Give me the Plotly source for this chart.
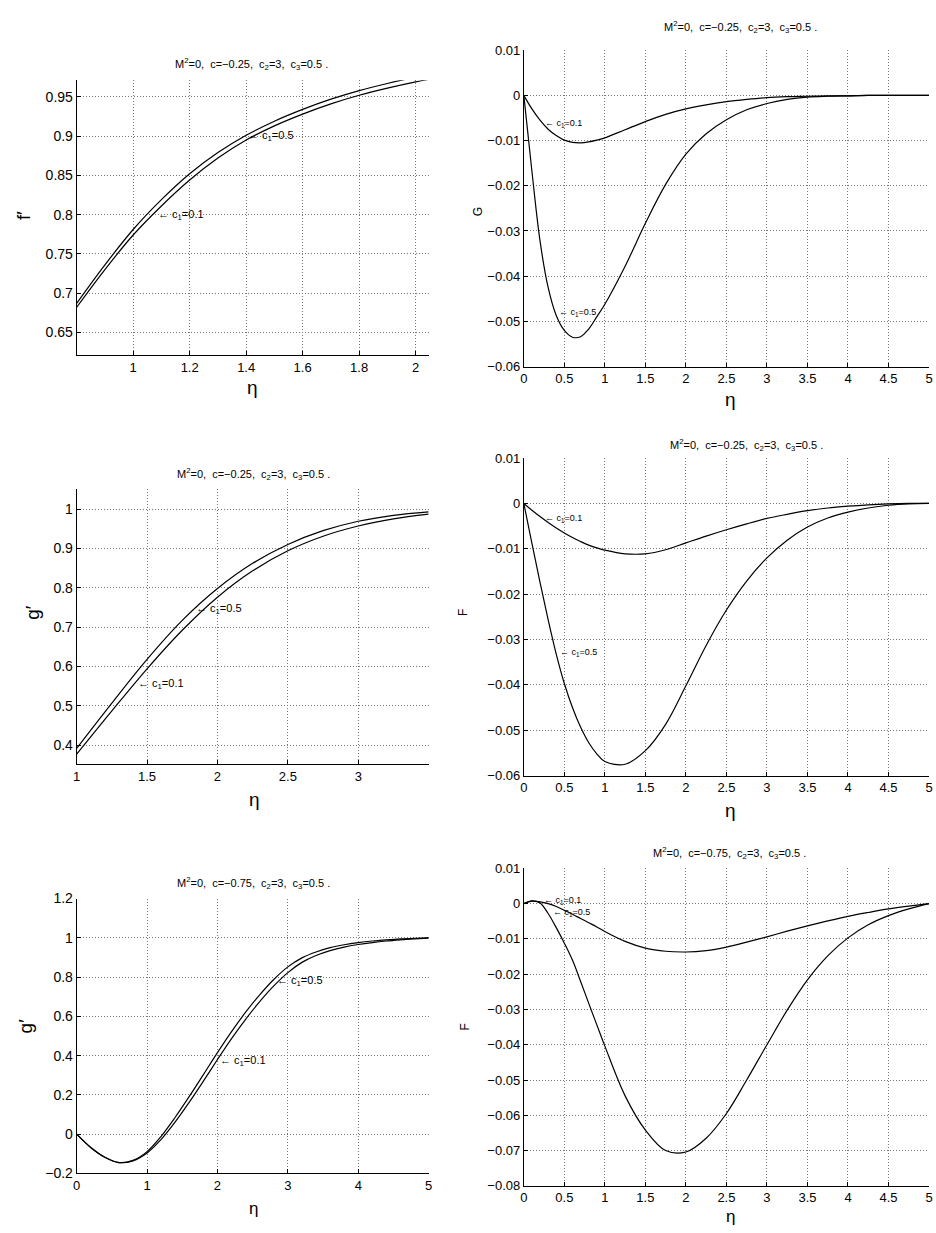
import plotly.graph_objects as go

W, H = 936, 1233
FONT = "Liberation Sans, Arial, Helvetica, sans-serif"

# ---------------- data ----------------
# Panel 1: f' , c=-0.25
eta_p1 = [0.8, 0.9, 1.0, 1.1, 1.2, 1.3, 1.4, 1.5, 1.6, 1.7, 1.8, 1.9, 2.0, 2.1]
fp_c05 = [0.687, 0.736, 0.781, 0.819, 0.852, 0.879, 0.901, 0.919, 0.934, 0.947, 0.958, 0.967, 0.975, 0.981]
fp_c01 = [0.682, 0.730, 0.774, 0.811, 0.844, 0.872, 0.895, 0.913, 0.928, 0.941, 0.952, 0.961, 0.969, 0.976]

# shared eta grid for the G / F panels
eta_fine = [0, 0.1, 0.2, 0.3, 0.4, 0.5, 0.6, 0.7, 0.8, 0.9, 1.0,
            1.25, 1.5, 1.75, 2.0, 2.25, 2.5, 2.75, 3.0, 3.25, 3.5, 3.75,
            4.0, 4.25, 4.5, 4.75, 5.0]

# Panel 2: G , c=-0.25
G_c01 = [0, -0.0030, -0.0055, -0.0075, -0.0089, -0.0099, -0.0104, -0.0105, -0.0103,
         -0.0099, -0.0094, -0.0076, -0.0058, -0.0042, -0.0030, -0.0021, -0.0014,
         -0.0009, -0.0005, -0.0003, -0.0002, -0.0001, -0.0001, 0, 0, 0, 0]
G_c05 = [0, -0.0168, -0.0322, -0.0425, -0.0487, -0.0520, -0.0535, -0.0534, -0.0517,
         -0.0490, -0.0462, -0.0378, -0.0283, -0.0197, -0.0130, -0.0085, -0.0054,
         -0.0032, -0.0018, -0.0009, -0.0004, -0.0002, -0.0001, 0, 0, 0, 0]

# Panel 3: g' , c=-0.25
eta_p3 = [1.0, 1.25, 1.5, 1.75, 2.0, 2.25, 2.5, 2.75, 3.0, 3.25, 3.5]
gp_c05 = [0.392, 0.507, 0.618, 0.717, 0.798, 0.862, 0.910, 0.945, 0.969, 0.984, 0.993]
gp_c01 = [0.377, 0.487, 0.594, 0.692, 0.776, 0.843, 0.894, 0.931, 0.957, 0.975, 0.987]

# Panel 4: F , c=-0.25
F1_c01 = [0, -0.0015, -0.0029, -0.0042, -0.0054, -0.0065, -0.0075, -0.0084, -0.0092,
          -0.0098, -0.0103, -0.0111, -0.0111, -0.0102, -0.0087, -0.0072, -0.0058,
          -0.0045, -0.0033, -0.0024, -0.0016, -0.0010, -0.0006, -0.0003, -0.0001, 0, 0]
F1_c05 = [0, -0.0088, -0.0174, -0.0256, -0.0332, -0.0397, -0.0450, -0.0493, -0.0527,
          -0.0552, -0.0569, -0.0575, -0.0545, -0.0487, -0.0402, -0.0313, -0.0235,
          -0.0171, -0.0120, -0.0081, -0.0052, -0.0032, -0.0019, -0.0010, -0.0004, -0.0001, 0]

# Panel 5: g' , c=-0.75
eta_p5 = [0, 0.2, 0.4, 0.6, 0.8, 1.0, 1.2, 1.4, 1.6, 1.8, 2.0, 2.2, 2.4, 2.6, 2.8,
          3.0, 3.2, 3.4, 3.6, 3.8, 4.0, 4.2, 4.4, 4.6, 4.8, 5.0]
gp2_c05 = [0, -0.068, -0.118, -0.145, -0.134, -0.089, -0.011, 0.086, 0.192, 0.303,
           0.415, 0.522, 0.621, 0.710, 0.788, 0.852, 0.898, 0.928, 0.950, 0.965,
           0.976, 0.984, 0.990, 0.995, 0.998, 1.0]
gp2_c01 = [0, -0.068, -0.118, -0.145, -0.136, -0.096, -0.027, 0.062, 0.163, 0.270,
           0.380, 0.487, 0.585, 0.675, 0.755, 0.823, 0.875, 0.910, 0.935, 0.953,
           0.966, 0.976, 0.984, 0.990, 0.995, 0.999]

# Panel 6: F , c=-0.75
F2_c01 = [0, 0.0007, 0.0005, 0.0000, -0.0008, -0.0019, -0.0030, -0.0042, -0.0054,
          -0.0066, -0.0079, -0.0107, -0.0126, -0.0135, -0.0137, -0.0133, -0.0123,
          -0.0109, -0.0094, -0.0078, -0.0063, -0.0049, -0.0036, -0.0025, -0.0015,
          -0.0007, 0]
F2_c05 = [0, 0.0008, 0.0002, -0.0028, -0.0068, -0.0112, -0.0160, -0.0220, -0.0282,
          -0.0343, -0.0404, -0.0545, -0.0642, -0.0700, -0.0704, -0.0665, -0.0595,
          -0.0500, -0.0400, -0.0302, -0.0216, -0.0148, -0.0097, -0.0060, -0.0034,
          -0.0015, 0]

title_025 = "M<sup>2</sup>=0,  c=−0.25,  c<sub>2</sub>=3,  c<sub>3</sub>=0.5 ."
title_075 = "M<sup>2</sup>=0,  c=−0.75,  c<sub>2</sub>=3,  c<sub>3</sub>=0.5 ."


def fmt(v):
    s = ("%.4f" % v).rstrip("0").rstrip(".")
    return s.replace("-", "−")


def frange(a, b, step):
    n = int(round((b - a) / step))
    return [round(a + i * step, 6) for i in range(n + 1)]


RX1 = 933.0
panels = [
    dict(px=(73.3, 428.3, 73.3, 351.7), xr=[0.8, 2.046], yr=[0.621, 0.971],
         xt=frange(1, 2, 0.2), yt=frange(0.65, 0.95, 0.05), fsx=13, fsy=14,
         x=eta_p1, ys=[fp_c05, fp_c01], title=title_025, tpos=(250, 57),
         ylab="f′", ylpos=(19, 210), ylsize=19, etapos=(251, 384), etasize=19,
         notes=[(1.4, 0.9, "0.5"), (1.08, 0.8, "0.1")], nsize=11),
    dict(px=(524.3, RX1, 42.7, 363.3), xr=[0, 5], yr=[-0.06, 0.01],
         xt=frange(0, 5, 0.5), yt=frange(-0.06, 0.01, 0.01), fsx=13, fsy=13,
         x=eta_fine, ys=[G_c01, G_c05], title=title_025, tpos=(743, 19),
         ylab="G", ylpos=(478, 206), ylsize=12, etapos=(733, 397), etasize=19,
         notes=[(0.24, -0.0063, "0.1"), (0.41, -0.0481, "0.5")], nsize=9),
    dict(px=(73.3, 428.3, 487.7, 766.0), xr=[1, 3.5], yr=[0.352, 1.05],
         xt=frange(1, 3, 0.5), yt=frange(0.4, 1.0, 0.1), fsx=13, fsy=14,
         x=eta_p3, ys=[gp_c05, gp_c01], title=title_025, tpos=(252, 472),
         ylab="g′", ylpos=(28, 612), ylsize=19, etapos=(253, 802), etasize=19,
         notes=[(1.834, 0.745, "0.5"), (1.42, 0.556, "0.1")], nsize=11),
    dict(px=(524.3, RX1, 456.0, 777.7), xr=[0, 5], yr=[-0.06, 0.01],
         xt=frange(0, 5, 0.5), yt=frange(-0.06, 0.01, 0.01), fsx=13, fsy=13,
         x=eta_fine, ys=[F1_c01, F1_c05], title=title_025, tpos=(749, 443),
         ylab="F", ylpos=(463, 613), ylsize=12, etapos=(733, 813), etasize=19,
         notes=[(0.24, -0.0034, "0.1"), (0.42, -0.0329, "0.5")], nsize=9),
    dict(px=(73.3, 428.3, 902.3, 1180.7), xr=[0, 5], yr=[-0.2, 1.2],
         xt=frange(0, 5, 1), yt=frange(-0.2, 1.2, 0.2), fsx=13, fsy=14,
         x=eta_p5, ys=[gp2_c05, gp2_c01], title=title_075, tpos=(252, 887),
         ylab="g′", ylpos=(22, 1031), ylsize=19, etapos=(252, 1216), etasize=17,
         notes=[(2.82, 0.78, "0.5"), (2.01, 0.373, "0.1")], nsize=11),
    dict(px=(524.3, RX1, 871.7, 1193.3), xr=[0, 5], yr=[-0.08, 0.01],
         xt=frange(0, 5, 0.5), yt=frange(-0.08, 0.01, 0.01), fsx=13, fsy=13,
         x=eta_fine, ys=[F2_c01, F2_c05], title=title_075, tpos=(732, 856),
         ylab="F", ylpos=(465, 1033), ylsize=12, etapos=(733, 1224), etasize=17,
         notes=[(0.22, 0.001, "0.1"), (0.33, -0.0025, "0.5")], nsize=9),
]

fig = go.Figure()
layout = dict(width=W, height=H, margin=dict(l=0, r=0, t=0, b=0),
              paper_bgcolor="white", plot_bgcolor="white", showlegend=False,
              font=dict(family=FONT, color="black"))
annotations = []

for i, p in enumerate(panels, start=1):
    x0, x1, y0, y1 = p["px"]
    xa = "x" if i == 1 else "x%d" % i
    ya = "y" if i == 1 else "y%d" % i
    xkey = "xaxis" if i == 1 else "xaxis%d" % i
    ykey = "yaxis" if i == 1 else "yaxis%d" % i
    common = dict(showgrid=True, gridcolor="#777777", griddash="1px,2px", gridwidth=1,
                  showline=True, linecolor="black", linewidth=1, mirror=False,
                  ticks="inside", ticklen=4, tickcolor="black", zeroline=False,
                  tickmode="array", fixedrange=True, ticklabeloverflow="allow")
    layout[xkey] = dict(domain=[x0 / W, x1 / W], range=p["xr"], anchor=ya,
                        tickvals=p["xt"], ticktext=[fmt(v) for v in p["xt"]],
                        tickfont=dict(family=FONT, size=p["fsx"], color="black"), **common)
    layout[ykey] = dict(domain=[1 - y1 / H, 1 - y0 / H], range=p["yr"], anchor=xa,
                        tickvals=p["yt"], ticktext=[fmt(v) for v in p["yt"]],
                        tickfont=dict(family=FONT, size=p["fsy"], color="black"), **common)
    for ys in p["ys"]:
        fig.add_trace(go.Scatter(x=p["x"], y=ys, mode="lines", xaxis=xa, yaxis=ya,
                                 line=dict(color="black", width=1.2, shape="spline",
                                           smoothing=1.0),
                                 hoverinfo="skip"))
    annotations.append(dict(text=p["title"], x=p["tpos"][0] / W, y=1 - p["tpos"][1] / H,
                            xref="paper", yref="paper", showarrow=False,
                            xanchor="center", yanchor="middle",
                            font=dict(family=FONT, size=11, color="black")))
    annotations.append(dict(text=p["ylab"], x=p["ylpos"][0] / W, y=1 - p["ylpos"][1] / H,
                            xref="paper", yref="paper", showarrow=False, textangle=-90,
                            xanchor="center", yanchor="middle",
                            font=dict(family=FONT, size=p["ylsize"], color="black")))
    annotations.append(dict(text="η", x=p["etapos"][0] / W, y=1 - p["etapos"][1] / H,
                            xref="paper", yref="paper", showarrow=False,
                            xanchor="center", yanchor="middle",
                            font=dict(family=FONT, size=p["etasize"], color="black")))
    for (nx, ny, val) in p["notes"]:
        annotations.append(dict(text="← c<sub>1</sub>=" + val, x=nx, y=ny, xref=xa, yref=ya,
                                showarrow=False, xanchor="left", yanchor="middle",
                                font=dict(family=FONT, size=p["nsize"], color="black")))

layout["annotations"] = annotations
fig.update_layout(**layout)
# remove the default page margin so the 936x1233 figure fills the window exactly
fig.write_html("out.html", config={"displayModeBar": False},
               post_script="document.body.style.margin='0';document.body.style.overflow='hidden';")
